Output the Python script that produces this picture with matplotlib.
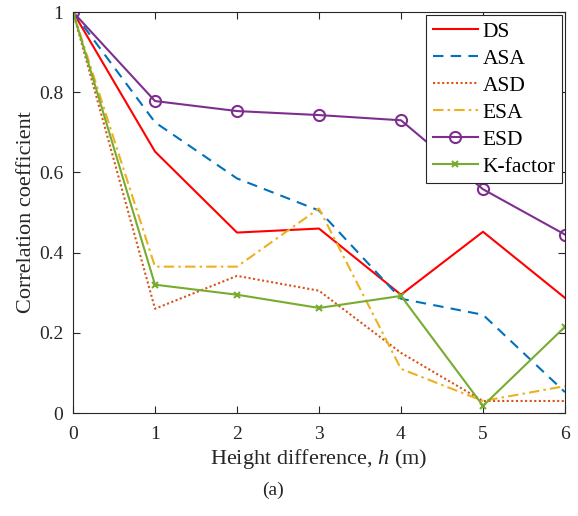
import matplotlib.pyplot as plt

plt.rcParams['font.family'] = ['Liberation Serif', 'DejaVu Serif']
plt.rcParams['mathtext.fontset'] = 'custom'
plt.rcParams['mathtext.it'] = 'Liberation Serif:italic'
plt.rcParams['mathtext.rm'] = 'Liberation Serif'

h = [0, 1, 2, 3, 4, 5, 6]
ds = [1.0, 0.652, 0.45, 0.46, 0.295, 0.452, 0.287]
asa = [1.0, 0.725, 0.585, 0.505, 0.285, 0.245, 0.052]
asd = [1.0, 0.26, 0.342, 0.305, 0.15, 0.03, 0.03]
esa = [1.0, 0.365, 0.365, 0.51, 0.11, 0.03, 0.067]
esd = [1.0, 0.778, 0.753, 0.743, 0.73, 0.558, 0.445]
kfac = [1.0, 0.32, 0.295, 0.262, 0.292, 0.018, 0.215]

fig = plt.figure(figsize=(5.78, 5.16), dpi=100)
ax = fig.add_axes([0.1263, 0.1996, 0.8512, 0.7771])

lw = 1.5
ax.plot(h, ds, color='#ff0000', lw=lw, label='DS')
ax.plot(h, asa, color='#0072bd', lw=lw, ls=(0, (5, 3.5)), label='ASA')
ax.plot(h, asd, color='#d95319', lw=lw, ls=(0, (1, 1.2)), label='ASD')
ax.plot(h, esa, color='#edb120', lw=lw, ls=(0, (5, 2, 1.2, 2)), label='ESA')
ax.plot(h, esd, color='#7e2f8e', lw=lw, marker='o', ms=8, mfc='none', mew=1.5, label='ESD')
ax.plot(h, kfac, color='#77ac30', lw=lw, marker='x', ms=5, mew=1.5, label='K-factor')

ax.set_xlim(0, 6)
ax.set_ylim(0, 1)
ax.set_xticks(h)
ax.set_yticks([0, 0.2, 0.4, 0.6, 0.8, 1])
ax.set_yticklabels(['0', '0.2', '0.4', '0.6', '0.8', '1'])
ax.tick_params(direction='in', top=True, right=True, labelsize=14, colors='#262626',
               length=5, width=0.8)
ax.tick_params(axis='x', pad=9)
ax.tick_params(axis='y', pad=7)
for s in ax.spines.values():
    s.set_color('#262626')
    s.set_linewidth(0.8)

ax.set_xlabel('Height difference, $h$ (m)', fontsize=16, color='#262626', labelpad=3)
ax.set_ylabel('Correlation coefficient', fontsize=16, color='#262626', labelpad=2)

leg = ax.legend(loc='upper right', fontsize=15.5, frameon=True, fancybox=False,
                edgecolor='#262626', framealpha=1, handlelength=2.1, handletextpad=0.2,
                borderpad=0.3, labelspacing=0.32, borderaxespad=0.15)
leg.get_frame().set_linewidth(0.8)

fig.text(0.473, 0.05, '(a)', ha='center', va='center', fontsize=14, color='#262626')

fig.savefig('out.png', dpi=100)
